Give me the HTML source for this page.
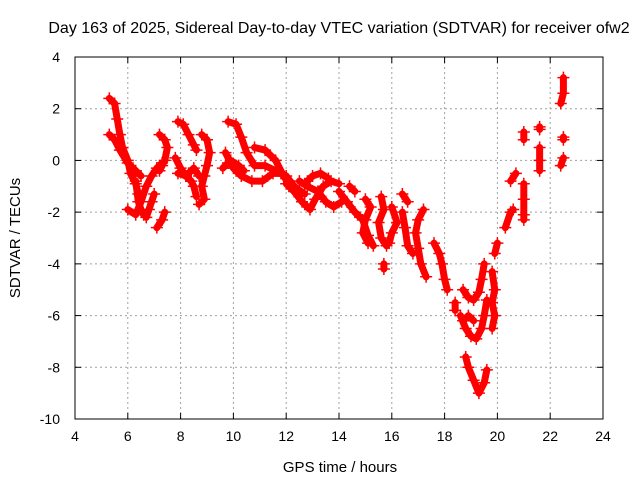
<!DOCTYPE html>
<html><head><meta charset="utf-8"><style>
body{margin:0;background:#fff}
svg{display:block;font-family:"Liberation Sans",sans-serif}
</style></head><body>
<svg id="chart" width="640" height="480">
<text x="339" y="33" font-size="16" text-anchor="middle">Day 163 of 2025, Sidereal Day-to-day VTEC variation (SDTVAR) for receiver ofw2</text>
<text x="340" y="472" font-size="15" text-anchor="middle">GPS time / hours</text>
<text transform="translate(20,238) rotate(-90)" font-size="15" text-anchor="middle">SDTVAR / TECUs</text>
<g id="grid"></g><g id="marks"></g>
<rect x="75" y="57" width="528" height="362" fill="none" stroke="#000"/>
</svg>
<script>
const xTicks=[4,6,8,10,12,14,16,18,20,22,24];
const yTicks=[4,2,0,-2,-4,-6,-8,-10];
const tracks=[
[[5.3,2.4],[5.5,2.2],[5.6,1.6],[5.7,1.0],[5.8,0.5],[6.0,0.0],[6.1,-0.5],[6.3,-0.9],[6.4,-1.3]],
[[5.3,1.0],[5.5,0.8],[5.7,0.4],[6.0,-0.1],[6.3,-0.4],[6.5,-0.6]],
[[6.0,-1.9],[6.3,-2.1],[6.5,-1.6],[6.7,-1.0],[6.9,-0.6],[7.1,-0.3],[7.3,-0.1]],
[[6.3,-0.8],[6.4,-1.6],[6.5,-1.9],[6.6,-2.1]],
[[6.7,-2.2],[6.8,-1.9],[6.9,-1.6],[7.0,-1.3]],
[[7.1,-2.6],[7.3,-2.3],[7.4,-2.0]],
[[7.2,1.0],[7.4,0.8],[7.5,0.5],[7.4,0.0],[7.3,-0.2],[7.2,-0.4]],
[[7.9,1.5],[8.1,1.4],[8.3,1.0],[8.5,0.6],[8.6,0.4]],
[[7.8,0.1],[8.0,-0.3],[8.2,-0.6],[8.4,-0.8],[8.5,-1.0],[8.6,-1.4]],
[[7.9,-0.5],[8.2,-0.6],[8.5,-0.3],[8.7,-0.6]],
[[8.8,1.0],[9.0,0.8],[9.1,0.3],[9.0,-0.2],[8.9,-0.6],[8.8,-1.0],[8.9,-1.5],[8.7,-1.7]],
[[9.8,1.5],[10.1,1.4],[10.3,0.9],[10.5,0.3],[10.8,-0.2],[11.2,-0.2],[11.6,-0.4],[12.0,-0.6],[12.3,-1.0],[12.7,-1.3]],
[[9.7,0.3],[10.0,-0.3],[10.3,-0.6],[10.7,-0.8],[11.1,-0.8],[11.5,-0.5],[11.8,-0.5]],
[[9.6,-0.3],[9.9,0.0],[10.2,-0.2],[10.4,-0.4]],
[[10.8,0.5],[11.2,0.4],[11.6,0.0],[11.9,-0.6],[12.1,-0.9]],
[[12.0,-0.9],[12.3,-1.2],[12.6,-1.6],[12.9,-1.9],[13.1,-1.5],[13.4,-1.0],[13.7,-0.8],[14.0,-0.9]],
[[12.5,-0.8],[12.8,-1.0],[13.2,-1.2],[13.5,-1.6],[13.8,-1.8],[14.1,-1.6]],
[[12.7,-0.9],[13.0,-0.6],[13.3,-0.5],[13.6,-0.7]],
[[14.0,-1.2],[14.3,-1.6],[14.6,-2.0],[14.9,-2.3],[15.1,-2.9],[15.3,-3.3]],
[[14.4,-1.0],[14.6,-1.2]],
[[15.0,-1.5],[15.2,-1.8],[15.0,-2.3],[14.9,-2.8],[15.1,-3.2]],
[[15.6,-1.4],[15.7,-1.9],[15.5,-2.4],[15.6,-3.0],[15.8,-3.3]],
[[15.7,-4.0],[15.7,-4.2]],
[[16.0,-1.8],[16.2,-2.4],[16.0,-2.8],[15.9,-3.2]],
[[16.4,-1.3],[16.6,-1.6]],
[[16.4,-2.0],[16.5,-2.6],[16.6,-3.3],[16.8,-3.6]],
[[17.2,-1.9],[17.0,-2.3],[16.9,-2.8],[17.0,-3.4],[17.1,-4.0],[17.3,-4.5]],
[[17.6,-3.2],[17.8,-3.6],[17.9,-4.0],[18.0,-4.6],[18.1,-5.0]],
[[18.4,-5.5],[18.4,-5.8]],
[[18.7,-5.0],[18.9,-5.3],[19.1,-5.4],[19.3,-5.1],[19.4,-4.6],[19.5,-4.0]],
[[18.6,-6.0],[18.8,-6.5],[19.0,-6.8],[19.2,-6.9],[19.4,-6.5],[19.5,-6.0],[19.6,-5.4]],
[[18.7,-6.2],[18.9,-6.0],[19.1,-6.2]],
[[18.8,-7.6],[18.9,-8.0],[19.1,-8.5],[19.3,-9.0],[19.5,-8.6],[19.6,-8.1]],
[[19.8,-4.3],[19.9,-5.0],[19.8,-5.5],[19.9,-6.0],[19.8,-6.5]],
[[19.9,-3.6],[20.0,-3.2]],
[[20.3,-2.6],[20.5,-2.0],[20.6,-1.9]],
[[20.5,-0.8],[20.7,-0.5]],
[[21.0,-0.9],[21.0,-1.5],[21.0,-2.1],[21.0,-2.3]],
[[21.0,1.1],[21.0,0.8]],
[[21.6,1.3],[21.6,1.2]],
[[21.6,0.5],[21.6,0.0],[21.6,-0.4]],
[[22.5,3.2],[22.5,2.6],[22.4,2.2]],
[[22.5,0.8],[22.5,0.9]],
[[22.5,0.1],[22.4,-0.2]]
];
const NS="http://www.w3.org/2000/svg";
const X0=75,X1=603,Y0=57,Y1=419;
function sx(v){return X0+(v-4)/20*(X1-X0);}
function sy(v){return Y0+(4-v)/14*(Y1-Y0);}
const grid=document.getElementById('grid'),marks=document.getElementById('marks');
function mk(tag,attrs,parent){const e=document.createElementNS(NS,tag);for(const k in attrs)e.setAttribute(k,attrs[k]);parent.appendChild(e);return e;}
xTicks.forEach(t=>{const x=sx(t);
 if(t>4&&t<24){const g=mk('line',{x1:x,x2:x,y1:Y0,y2:Y1,stroke:'#a0a0a0','stroke-dasharray':'2,3'},grid);
 
 }
 mk('line',{x1:x,x2:x,y1:Y1,y2:Y1-6,stroke:'#000'},grid);
 mk('line',{x1:x,x2:x,y1:Y0,y2:Y0+6,stroke:'#000'},grid);
 const l=mk('text',{x:x,y:Y1+22,'font-size':14,'text-anchor':'middle'},grid);l.textContent=t;
 
 
});
yTicks.forEach(t=>{const y=sy(t);
 if(t<4&&t>-10){const g=mk('line',{x1:X0,x2:X1,y1:y,y2:y,stroke:'#a0a0a0','stroke-dasharray':'2,3'},grid);
 
 }
 mk('line',{x1:X0,x2:X0+6,y1:y,y2:y,stroke:'#000'},grid);
 mk('line',{x1:X1,x2:X1-6,y1:y,y2:y,stroke:'#000'},grid);
 const l=mk('text',{x:X0-15,y:y+5,'font-size':14,'text-anchor':'end'},grid);l.textContent=t;
 
 
});
tracks.forEach(tr=>{
 const p=mk('polyline',{points:tr.map(d=>sx(d[0])+','+sy(d[1])).join(' '),fill:'none',stroke:'#ff0000','stroke-width':7,'stroke-linejoin':'round','stroke-linecap':'round'},marks);
 
 
 tr.forEach(d=>{const x=sx(d[0]),y=sy(d[1]);
  const m=mk('path',{d:`M${x-6},${y}H${x+6}M${x},${y-6}V${y+6}`,stroke:'#ff0000','stroke-width':1.5},marks);
  
  
 });
});
</script>
</body></html>
